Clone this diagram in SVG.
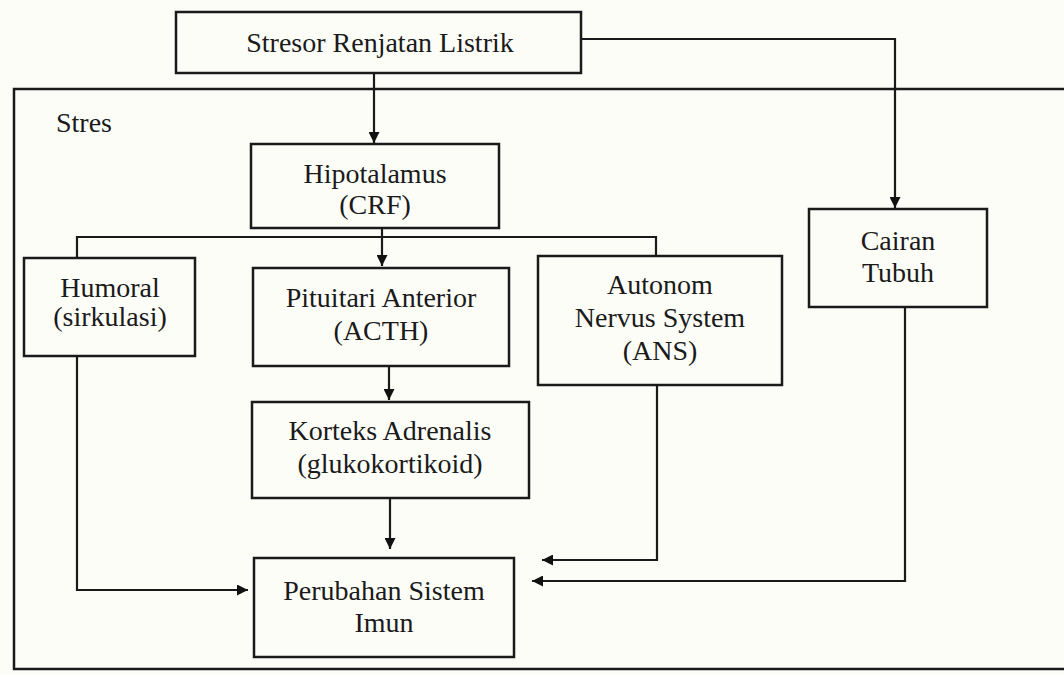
<svg xmlns="http://www.w3.org/2000/svg" width="1064" height="675" viewBox="0 0 1064 675">
<defs>
<marker id="ah" viewBox="0 0 10 10" refX="10" refY="5" markerWidth="12" markerHeight="11" markerUnits="userSpaceOnUse" orient="auto">
<path d="M0,0 L10,5 L0,10 z" fill="#111"/>
</marker>
<style>
.box{fill:none;stroke:#1a1a1a;stroke-width:2.5}
.ln{fill:none;stroke:#1a1a1a;stroke-width:2.2}
.arr{fill:none;stroke:#1a1a1a;stroke-width:2.2;marker-end:url(#ah)}
text{font-family:"Liberation Serif","Times New Roman",serif;font-size:28px;fill:#1a1a1a;text-anchor:middle}
</style>
</defs>
<rect width="1064" height="675" fill="#fdfdf8"/>
<g id="outer">
<path class="box" d="M1064,89 L14,89 L14,669 L1064,669"/>
<text x="56" y="132" style="text-anchor:start">Stres</text>
</g>
<g id="connectors">
<path class="arr" d="M374,73 L374,143"/>
<path class="arr" d="M581,39 L895,39 L895,208"/>
<path class="arr" d="M382,228 L382,266"/>
<path class="ln" d="M77,258 L77,237 L656,237 L656,256"/>
<path class="arr" d="M389,366 L389,400"/>
<path class="arr" d="M390,498 L390,549"/>
<path class="arr" d="M77,356 L77,590 L248,590"/>
<path class="arr" d="M657,385 L657,560 L542,560"/>
<path class="arr" d="M905,307 L905,581 L532,581"/>
</g>
<g id="stresor">
<rect class="box" x="176" y="12" width="405" height="61"/>
<text x="380" y="52">Stresor Renjatan Listrik</text>
</g>
<g id="hipotalamus">
<rect class="box" x="251" y="144" width="248" height="84"/>
<text x="375" y="183">Hipotalamus</text>
<text x="375" y="214">(CRF)</text>
</g>
<g id="humoral">
<rect class="box" x="24" y="258" width="171" height="98"/>
<text x="110" y="297">Humoral</text>
<text x="110" y="326">(sirkulasi)</text>
</g>
<g id="pituitari">
<rect class="box" x="253" y="268" width="256" height="98"/>
<text x="381" y="307">Pituitari Anterior</text>
<text x="381" y="340">(ACTH)</text>
</g>
<g id="ans">
<rect class="box" x="538" y="256" width="244" height="129"/>
<text x="660" y="294">Autonom</text>
<text x="660" y="327">Nervus System</text>
<text x="660" y="360">(ANS)</text>
</g>
<g id="cairan">
<rect class="box" x="809" y="209" width="178" height="98"/>
<text x="898" y="250">Cairan</text>
<text x="898" y="282">Tubuh</text>
</g>
<g id="korteks">
<rect class="box" x="252" y="402" width="277" height="96"/>
<text x="390" y="440">Korteks Adrenalis</text>
<text x="390" y="473">(glukokortikoid)</text>
</g>
<g id="perubahan">
<rect class="box" x="254" y="558" width="260" height="99"/>
<text x="384" y="600">Perubahan Sistem</text>
<text x="384" y="632">Imun</text>
</g>
</svg>
